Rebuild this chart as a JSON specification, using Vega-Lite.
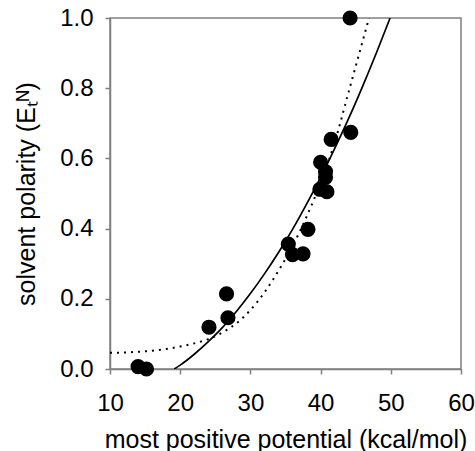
{
  "$schema": "https://vega.github.io/schema/vega-lite/v6.json",
  "width": 351,
  "height": 351,
  "autosize": {"type": "none"},
  "padding": {"left": 110, "top": 18, "right": 14, "bottom": 82},
  "background": "white",
  "config": {
    "font": "Liberation Sans",
    "view": {"stroke": "#808080", "strokeWidth": 1.5},
    "axis": {
      "grid": false,
      "domainColor": "#808080",
      "domainWidth": 1.5,
      "tickColor": "#808080",
      "tickWidth": 1.5,
      "tickSize": 5,
      "labelColor": "black",
      "titleColor": "black",
      "labelFont": "Liberation Sans",
      "titleFont": "Liberation Sans",
      "labelFontSize": 24,
      "titleFontSize": 25,
      "titleFontWeight": "normal",
      "labelFlush": false,
      "labelOverlap": false
    }
  },
  "datasets": {
    "points": [
      {"x": 14.0, "y": 0.007},
      {"x": 15.2, "y": 0.0},
      {"x": 24.1, "y": 0.119},
      {"x": 26.6, "y": 0.214},
      {"x": 26.8, "y": 0.146},
      {"x": 35.4, "y": 0.356},
      {"x": 36.0, "y": 0.326},
      {"x": 37.5, "y": 0.328},
      {"x": 38.2, "y": 0.398},
      {"x": 39.9, "y": 0.512},
      {"x": 40.9, "y": 0.505},
      {"x": 40.0, "y": 0.589},
      {"x": 40.7, "y": 0.562},
      {"x": 40.7, "y": 0.546},
      {"x": 41.5, "y": 0.654},
      {"x": 44.3, "y": 0.674},
      {"x": 44.2, "y": 1.0}
    ],
    "solid": [
      {"x": 19.15, "y": 0.0},
      {"x": 20, "y": 0.011},
      {"x": 22, "y": 0.042},
      {"x": 24, "y": 0.078},
      {"x": 26, "y": 0.118},
      {"x": 28, "y": 0.164},
      {"x": 30, "y": 0.215},
      {"x": 32, "y": 0.271},
      {"x": 34, "y": 0.332},
      {"x": 36, "y": 0.398},
      {"x": 38, "y": 0.470},
      {"x": 40, "y": 0.546},
      {"x": 42, "y": 0.628},
      {"x": 44, "y": 0.714},
      {"x": 46, "y": 0.806},
      {"x": 48, "y": 0.903},
      {"x": 49.9, "y": 1.0}
    ],
    "dotted": [
      {"x": 10, "y": 0.046},
      {"x": 12, "y": 0.047},
      {"x": 14, "y": 0.049},
      {"x": 16, "y": 0.052},
      {"x": 18, "y": 0.057},
      {"x": 20, "y": 0.064},
      {"x": 22, "y": 0.073},
      {"x": 24, "y": 0.085},
      {"x": 26, "y": 0.104},
      {"x": 28, "y": 0.130},
      {"x": 30, "y": 0.168},
      {"x": 32, "y": 0.218},
      {"x": 34, "y": 0.280},
      {"x": 36, "y": 0.350},
      {"x": 38, "y": 0.434},
      {"x": 40, "y": 0.530},
      {"x": 42, "y": 0.645},
      {"x": 44, "y": 0.790},
      {"x": 46, "y": 0.935},
      {"x": 46.9, "y": 1.0}
    ]
  },
  "encoding": {
    "x": {
      "field": "x",
      "type": "quantitative",
      "scale": {"domain": [10, 60], "nice": false, "zero": false},
      "axis": {
        "title": "most positive potential (kcal/mol)",
        "values": [10, 20, 30, 40, 50, 60],
        "format": "d",
        "labelPadding": 17,
        "titlePadding": 12
      }
    },
    "y": {
      "field": "y",
      "type": "quantitative",
      "scale": {"domain": [0, 1], "nice": false, "zero": false},
      "axis": {
        "title": "solvent polarity (Eₜᴺ)",
        "values": [0, 0.2, 0.4, 0.6, 0.8, 1.0],
        "format": ".1f",
        "labelPadding": 12,
        "titlePadding": 20
      }
    }
  },
  "layer": [
    {
      "data": {"name": "dotted"},
      "mark": {"type": "line", "color": "black", "strokeWidth": 2, "strokeDash": [2, 5], "interpolate": "monotone", "clip": true}
    },
    {
      "data": {"name": "solid"},
      "mark": {"type": "line", "color": "black", "strokeWidth": 1.7, "interpolate": "monotone", "clip": true}
    },
    {
      "data": {"name": "points"},
      "mark": {"type": "circle", "color": "black", "opacity": 1, "size": 230}
    }
  ]
}
